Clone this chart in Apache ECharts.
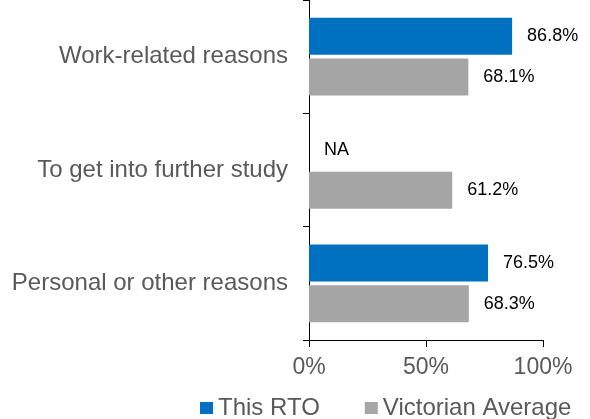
<!DOCTYPE html>
<html>
<head>
<meta charset="utf-8">
<script src="https://cdn.jsdelivr.net/npm/echarts@6/dist/echarts.min.js"></script>
<style>html,body{margin:0;padding:0;background:#fff;}#c{width:590px;height:419px;}</style>
</head>
<body>
<div id="c"></div>
<script>
var categories = ['Work-related reasons', 'To get into further study', 'Personal or other reasons'];
var thisRTO = [86.8, 0, 76.5];
var thisRTOLabels = ['86.8%', 'NA', '76.5%'];
var victorianAverage = [68.1, 61.2, 68.3];
var xTicks = [0, 50, 100];
var seriesNames = ['This RTO', 'Victorian Average'];

var FONT = '"Liberation Sans", Arial, sans-serif';
var chart = echarts.init(document.getElementById('c'), null, {renderer: 'canvas'});
chart.setOption({
  animation: false,
  textStyle: {fontFamily: FONT},
  grid: {left: 309, right: 47, top: -5, bottom: 79, containLabel: false},
  legend: {
    data: seriesNames,
    top: 396,
    left: 200,
    padding: 0,
    icon: 'rect',
    itemWidth: 13,
    itemHeight: 12,
    itemGap: 45,
    textStyle: {color: '#595959', fontSize: 24, fontFamily: FONT}
  },
  xAxis: {
    type: 'value',
    min: xTicks[0],
    max: xTicks[xTicks.length - 1],
    interval: xTicks[1] - xTicks[0],
    axisLine: {show: true, lineStyle: {color: '#000', width: 1}},
    axisTick: {show: true, length: 7, lineStyle: {color: '#000'}},
    splitLine: {show: false},
    axisLabel: {formatter: '{value}%', color: '#595959', fontSize: 23, margin: 16, fontFamily: FONT}
  },
  yAxis: {
    type: 'category',
    inverse: true,
    data: categories,
    axisLine: {show: true, lineStyle: {color: '#000', width: 1}},
    axisTick: {show: true, length: 6, lineStyle: {color: '#000'}},
    axisLabel: {color: '#595959', fontSize: 24, margin: 21, fontFamily: FONT}
  },
  series: [
    {
      name: seriesNames[0],
      type: 'bar',
      data: thisRTO,
      barWidth: 37,
      barGap: '10%',
      itemStyle: {color: '#0070C0'},
      label: {
        show: true, position: 'right', distance: 15, color: '#000', fontSize: 18, fontFamily: FONT,
        formatter: function (p) { return thisRTOLabels[p.dataIndex]; }
      }
    },
    {
      name: seriesNames[1],
      type: 'bar',
      data: victorianAverage,
      barWidth: 37,
      barGap: '10%',
      itemStyle: {color: '#A5A5A5'},
      label: {
        show: true, position: 'right', distance: 15, color: '#000', fontSize: 18, fontFamily: FONT,
        formatter: function (p) { return p.value.toFixed(1) + '%'; }
      }
    }
  ]
});
</script>
</body>
</html>
